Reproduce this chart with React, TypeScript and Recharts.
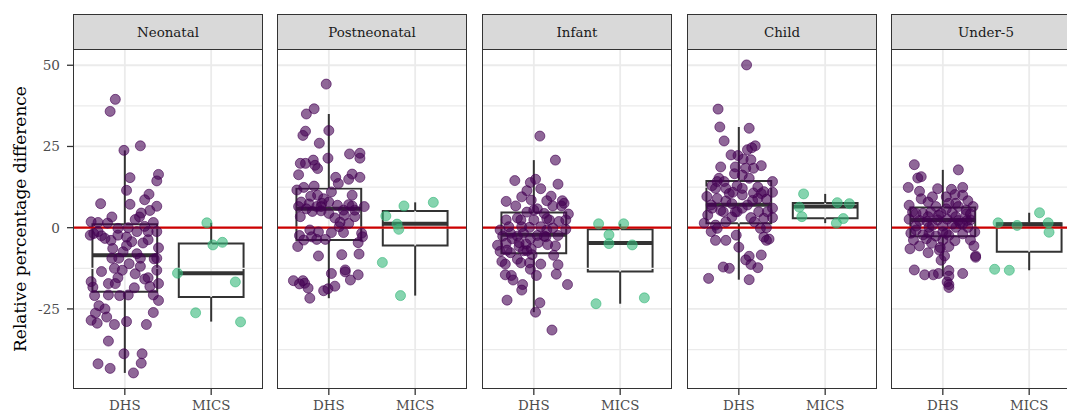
import React from 'react';
import { ComposedChart, XAxis, YAxis, Scatter, ReferenceLine, ReferenceArea } from 'recharts';

// Facet titles and x categories
const facets = ['Neonatal', 'Postneonatal', 'Infant', 'Child', 'Under-5'];
const sources = ['DHS', 'MICS'];

// Jittered observations: [horizontal jitter offset, relative percentage difference]
const neonatalDhs = [
  [-0.11, 39.5], [-0.17, 35.8], [-0.01, 23.8], [0.18, 25.2], [0.06, 15.4], [0.39, 16.4], [0.37, 14.4], [0.02, 11.5],
  [0.28, 10.3], [-0.28, 7.4], [0.23, 8.6], [0.06, 7.2], [0.37, 6.6], [0.19, 4.5], [0.29, 5.3], [-0.15, 3.3],
  [0.12, 2.5], [0.17, 3.3], [-0.39, 1.8], [-0.31, 1.6], [-0.2, 1.4], [-0.08, -0.2], [-0.4, -2.3], [-0.27, -2.5],
  [0.04, 0], [0.23, 0.4], [0.33, 1.6], [-0.16, -3.9], [0.02, -2.9], [0.27, -3.7], [0.21, -4.7], [0.39, -6.2],
  [-0.14, -6.4], [-0.02, -7.4], [0.14, -8.0], [0.34, -9.6], [0.02, -5.5], [-0.27, -13.5], [-0.12, -12.5], [0.05, -11.1],
  [0.18, -11.9], [-0.08, -15.4], [-0.39, -16.6], [-0.19, -17.2], [-0.03, -13.1], [0.12, -14.2], [0.27, -15.4], [0.39, -17.2],
  [-0.37, -18.3], [0.11, -18.5], [0.29, -18.1], [-0.35, -20.9], [-0.19, -20.7], [-0.06, -20.9], [0.39, -22.4], [-0.3, -24.0],
  [-0.23, -25.0], [-0.34, -26.3], [-0.39, -28.5], [-0.32, -29.4], [-0.21, -27.5], [-0.12, -29.8], [0.02, -28.9], [0.25, -29.8],
  [0.33, -26.1], [-0.19, -34.9], [-0.01, -38.8], [0.2, -38.8], [-0.31, -41.9], [-0.17, -43.3], [0.19, -41.7], [0.1, -44.7],
  [-0.07, -9.4], [-0.31, -1.2], [0.14, -1.2], [0.27, -1.2], [0.37, -1.2], [-0.15, -9.4], [0.18, -9.4], [0.37, -13.1],
  [-0.23, -3.3], [0.08, -4.3], [0.23, -15.8], [-0.11, -17.2], [0.37, -9.4], [0.04, -20.7], [0.33, -20.7], [-0.36, -1.8],
  [-0.08, -2.3],
];
const neonatalMics = [[-0.05, 1.5], [0.02, -5.3], [0.13, -4.5], [-0.39, -14.0], [0.28, -16.7], [-0.18, -26.2], [0.34, -29.0]];

const postneonatalDhs = [
  [-0.03, 44.2], [-0.26, 35.0], [-0.17, 36.6], [-0.27, 29.7], [-0.3, 28.4], [0, 29.9], [-0.11, 26.0], [-0.01, 21.4],
  [0.24, 22.7], [0.36, 22.9], [0.36, 21.4], [-0.33, 19.8], [-0.27, 19.8], [-0.18, 20.8], [-0.16, 19.2], [-0.13, 18.2],
  [-0.35, 16.3], [0.08, 15.5], [0.27, 16.5], [0.36, 15.5], [0.23, 14.9], [0.11, 13.6], [-0.37, 11.6], [-0.29, 12.4],
  [-0.17, 12.8], [0.03, 11.0], [0.27, 10.0], [-0.21, 9.7], [-0.13, 10.0], [-0.06, 8.9], [-0.32, 7.9], [-0.23, 7.3],
  [-0.14, 6.5], [-0.08, 7.5], [0, 7.9], [0.1, 6.9], [0.23, 7.1], [0.41, 6.5], [-0.35, 6.5], [-0.26, 5.8],
  [-0.19, 5.0], [-0.09, 5.2], [0.17, 5.4], [0.3, 5.4], [-0.33, 3.4], [0.18, 3.8], [0.3, 3.4], [0.13, 1.7],
  [0.12, 0.3], [-0.12, -1.3], [-0.22, -0.7], [0.17, -1.5], [0.38, -1.7], [-0.34, -2.4], [0.03, -1.5], [-0.29, -3.8],
  [-0.14, -3.6], [-0.04, -3.6], [-0.36, -5.8], [0.34, -4.6], [0.35, -8.1], [-0.12, -8.7], [0.15, -8.3], [0.03, -14.1],
  [0.19, -13.0], [0.19, -13.6], [0.34, -14.5], [0.25, -16.1], [-0.41, -16.3], [-0.3, -16.3], [-0.28, -17.1], [-0.34, -17.3],
  [-0.24, -18.6], [0.07, -18.0], [-0.06, -19.4], [-0.01, -18.8], [-0.22, -21.7], [-0.09, 6.5], [0, 4.4], [0.07, 3.0],
  [0.23, 1.3], [0.39, -2.8], [-0.2, -2.8], [0.27, 6.7],
];
const postneonatalMics = [[-0.34, 3.6], [-0.13, 6.7], [0.21, 7.8], [-0.21, 1.1], [-0.19, -0.5], [-0.38, -10.7], [-0.17, -20.9]];

const infantDhs = [
  [0.07, 28.2], [0.25, 20.8], [-0.22, 14.5], [-0.04, 13.9], [0.02, 14.9], [0.28, 13.4], [-0.08, 11.4], [0.08, 12.0],
  [-0.14, 9.5], [-0.32, 8.1], [-0.03, 8.5], [0.2, 9.7], [0.33, 8.3], [-0.21, 6.7], [0.04, 5.8], [0.22, 6.7],
  [0.32, 6.7], [0.4, 4.2], [-0.32, 2.4], [-0.19, 3.0], [-0.15, 2.4], [0.15, 2.8], [0.29, 1.9], [-0.05, 0.1],
  [0.08, 0.3], [0.22, -0.1], [0.37, -0.5], [-0.39, -0.7], [-0.27, -1.7], [-0.12, -1.7], [0.04, -2.4], [0.28, -2.4],
  [-0.25, -3.4], [-0.04, -3.4], [0.14, -2.8], [-0.42, -5.4], [-0.32, -4.8], [-0.17, -4.6], [-0.09, -5.0], [0.05, -4.6],
  [0.25, -5.6], [-0.39, -7.3], [-0.27, -7.7], [-0.12, -7.1], [-0.03, -6.5], [0.23, -8.5], [-0.37, -10.4], [-0.33, -11.2],
  [-0.15, -10.8], [-0.05, -10.8], [0.08, -11.2], [0.28, -11.4], [-0.04, -12.8], [0.03, -14.7], [-0.33, -14.5], [-0.26, -14.7],
  [-0.24, -16.1], [0.26, -14.3], [0.39, -17.5], [-0.13, -17.5], [-0.14, -19.2], [-0.31, -22.3], [0.07, -23.1], [0.02, -26.0],
  [0.21, -31.5], [-0.19, -2.6], [-0.29, 0.3], [-0.14, 0.3], [0.15, -0.7], [-0.08, -7.1], [-0.19, -9.7], [0.16, -5.2],
  [0.12, 4.4], [0, 2.4], [-0.36, -2.6], [0.37, 2.4], [-0.08, 4.8], [0.18, 2.4], [-0.17, -5.8], [-0.02, -8.3],
  [-0.31, -6.9], [0.12, -2.6], [0.35, 7.5], [0.15, 8.3], [0, 5.4],
];
const infantMics = [[-0.25, 1.2], [0.04, 1.2], [-0.13, -2.2], [-0.13, -4.9], [0.14, -5.3], [-0.28, -23.4], [0.28, -21.6]];

const childDhs = [
  [0.09, 50.1], [-0.24, 36.5], [-0.22, 31.0], [0.12, 30.6], [-0.17, 26.7], [0.1, 24.0], [0.19, 25.2], [0.15, 24.6],
  [-0.09, 22.4], [-0.01, 22.2], [0.05, 21.1], [0.14, 20.9], [0.26, 19.1], [-0.21, 18.7], [-0.04, 18.7], [0.08, 18.3],
  [0.17, 18.3], [-0.05, 16.6], [0.04, 16.2], [0.12, 15.2], [-0.23, 15.2], [-0.25, 14.2], [0.39, 14.2], [-0.31, 12.9],
  [-0.15, 12.1], [-0.02, 12.9], [0.22, 12.5], [0.29, 11.1], [-0.07, 10.9], [0.04, 10.1], [0.17, 10.7], [-0.37, 9.6],
  [-0.25, 9.0], [-0.15, 8.2], [0.16, 8.4], [0.32, 8.8], [-0.08, 7.4], [-0.31, 6.0], [-0.21, 5.3], [0.04, 6.0],
  [0.23, 4.9], [0.39, 6.0], [-0.36, 3.9], [-0.08, 3.3], [0.14, 3.1], [0.29, 2.9], [0.39, 3.1], [-0.4, 1.4],
  [-0.27, 0.8], [-0.15, 1.8], [0.25, -0.2], [0.32, 0], [-0.32, -1.2], [-0.27, -3.9], [-0.15, -3.9], [-0.03, -2.3],
  [0.29, -2.9], [0.35, -3.5], [0.32, -3.9], [0, -6.0], [0.26, -8.4], [0.12, -8.8], [0.08, -9.9], [0.14, -11.3],
  [0.22, -12.3], [-0.18, -12.1], [-0.11, -12.5], [-0.35, -15.6], [0.12, -16.0], [-0.17, 14.2], [-0.11, 10.5], [0.26, 10.5],
  [-0.32, 7.0], [0.1, 7.0], [-0.04, 4.9], [0.39, 10.9], [-0.18, 4.9], [0.18, 1.8], [0.33, 4.9], [0.04, 12.1],
  [-0.27, 12.1], [0.22, 9.0], [-0.02, 4.9], [-0.25, -0.2],
];
const childMics = [[-0.25, 10.4], [-0.3, 6.3], [-0.27, 3.4], [0.14, 7.7], [0.28, 7.4], [0.21, 2.8], [0.13, 1.4]];

const underFiveDhs = [
  [-0.33, 19.4], [0.18, 17.8], [-0.29, 15.3], [-0.25, 15.7], [-0.4, 12.4], [-0.27, 11.2], [-0.06, 12.0], [0.1, 11.8],
  [0.23, 12.4], [0.14, 10.2], [0.23, 10.0], [-0.25, 8.9], [-0.17, 7.9], [0.04, 9.5], [0.29, 8.3], [-0.39, 6.9],
  [-0.08, 6.5], [0.07, 7.5], [0.18, 6.5], [0.35, 6.5], [-0.35, 4.8], [-0.23, 4.4], [-0.14, 4.8], [-0.02, 4.4],
  [0.11, 4.6], [0.27, 4.2], [-0.39, 2.6], [-0.27, 2.2], [-0.18, 1.9], [-0.06, 2.4], [0.05, 2.6], [0.18, 2.2],
  [0.32, 2.4], [-0.31, 0.5], [-0.16, 0.1], [0, 0.5], [0.15, 0.1], [0.29, 0.1], [-0.37, -1.7], [-0.23, -2.2],
  [-0.08, -2.6], [0.07, -2.4], [0.23, -1.9], [0.37, -1.3], [-0.34, -3.8], [-0.19, -3.4], [0, -3.8], [0.14, -4.0],
  [-0.38, -6.5], [-0.27, -5.6], [-0.03, -6.1], [0.36, -5.6], [-0.17, -7.7], [0.02, -8.7], [0.38, -8.7], [0.38, -9.1],
  [-0.33, -13.0], [-0.21, -14.5], [-0.11, -14.5], [-0.05, -14.1], [0.07, -13.2], [0.07, -14.9], [0.23, -14.1], [0.05, -16.7],
  [0.07, -17.5], [0.07, -18.4], [-0.02, -10.0], [-0.04, -6.9], [-0.12, 9.5], [-0.31, 4.4], [0.15, 3.4], [0.28, 2.2],
  [-0.17, 3.4], [0.04, 5.8], [0.27, 5.4], [-0.12, 0.7], [0.11, 1.1], [0.23, 1.1], [0, -1.3], [-0.31, -0.7],
  [0.32, -3.8], [-0.13, -4.8], [0.07, -5.8], [0.2, 1.3], [-0.05, 3.8], [0.15, 7.5], [0.32, 4.2], [0.04, -1.7],
  [-0.16, -1.7],
];
const underFiveMics = [[-0.36, 1.5], [-0.14, 0.7], [0.12, 4.6], [0.22, 1.5], [0.23, -1.4], [-0.4, -12.8], [-0.23, -13.1]];

const dhsPoints = [neonatalDhs, postneonatalDhs, infantDhs, childDhs, underFiveDhs];
const micsPoints = [neonatalMics, postneonatalMics, infantMics, childMics, underFiveMics];

// Box summaries: [lower whisker, Q1, median, Q3, upper whisker]
const dhsBoxes = [
  [-44.7, -19.7, -8.5, 1.05, 23.8],
  [-21.7, -3.8, 5.8, 12.1, 35.0],
  [-26.0, -7.9, -2.2, 4.7, 20.8],
  [-16.0, 1.35, 7.1, 14.4, 31.0],
  [-14.9, -2.6, 2.4, 6.2, 17.8],
];
const micsBoxes = [
  [-28.9, -21.3, -14.0, -4.9, 1.5],
  [-20.9, -5.5, 1.2, 5.1, 7.8],
  [-23.4, -13.5, -4.7, -0.5, 1.2],
  [1.4, 2.9, 6.5, 7.6, 10.4],
  [-13.1, -7.4, 1.0, 1.35, 4.6],
];

const yTicks = [-25, 0, 25, 50];
const yMinor = [-37.5, -12.5, 12.5, 37.5];
const yDomain: [number, number] = [-49.34, 55.0];
const xDomain: [number, number] = [0.4, 2.6];

const FONT = '"DejaVu Serif", serif';
const PANEL_LEFTS = [73, 277, 482, 687, 891];
const PANEL_W = 190;
const PANEL_TOP = 49;
const PANEL_BOTTOM = 388;
const CHART_H = 430;
const AXIS_W = 73;

const PURPLE = '#440154';
const GREEN = '#35B779';

const toRows = (pts: number[][], center: number) => pts.map(([o, v]) => ({ x: center + o, y: v }));

const dot = (color: string) => (p: any) => (
  <circle cx={p.cx} cy={p.cy} r={5} fill={color} fillOpacity={0.6} stroke={color} strokeOpacity={0.6} strokeWidth={1} />
);

function boxElements(stats: number[], center: number, key: string) {
  const [lo, q1, med, q3, hi] = stats;
  const half = 0.375;
  const line = { stroke: '#333333', strokeWidth: 2 };
  return [
    <ReferenceLine key={key + 'wl'} segment={[{ x: center, y: lo }, { x: center, y: q1 }]} {...line} ifOverflow="visible" />,
    <ReferenceLine key={key + 'wh'} segment={[{ x: center, y: q3 }, { x: center, y: hi }]} {...line} ifOverflow="visible" />,
    <ReferenceArea key={key + 'box'} x1={center - half} x2={center + half} y1={q1} y2={q3} fill="#ffffff" fillOpacity={1} {...line} ifOverflow="visible" />,
    <ReferenceLine key={key + 'med'} segment={[{ x: center - half, y: med }, { x: center + half, y: med }]} stroke="#333333" strokeWidth={4} ifOverflow="visible" />,
  ];
}

function Facet({ index }: { index: number }) {
  const first = index === 0;
  const left = first ? 0 : PANEL_LEFTS[index];
  const width = first ? AXIS_W + PANEL_W : PANEL_W;
  const gridColor = '#EBEBEB';
  return (
    <div style={{ position: 'absolute', left, top: 0 }}>
      <ComposedChart width={width} height={CHART_H} margin={{ top: PANEL_TOP, right: 0, bottom: 0, left: 0 }}>
        <XAxis
          type="number"
          dataKey="x"
          domain={xDomain}
          ticks={[1, 2]}
          allowDataOverflow
          tickFormatter={(v: number) => sources[v - 1]}
          axisLine={false}
          tickLine={{ stroke: '#333333', strokeWidth: 1.3 }}
          tickSize={7}
          tickMargin={5}
          height={CHART_H - PANEL_BOTTOM}
          tick={{ fill: '#4D4D4D', fontSize: 13.4, fontFamily: FONT }}
        />
        <YAxis
          type="number"
          dataKey="y"
          domain={yDomain}
          ticks={yTicks}
          allowDataOverflow
          hide={!first}
          width={first ? AXIS_W : 0}
          axisLine={false}
          tickLine={{ stroke: '#333333', strokeWidth: 1.3 }}
          tickSize={6}
          tickMargin={7}
          tick={{ fill: '#4D4D4D', fontSize: 13.6, fontFamily: FONT }}
        />
        {yMinor.map((v) => (
          <ReferenceLine key={'mi' + v} y={v} stroke={gridColor} strokeWidth={1.2} />
        ))}
        {yTicks.map((v) => (
          <ReferenceLine key={'ma' + v} y={v} stroke={gridColor} strokeWidth={1.8} />
        ))}
        {[1, 2].map((v) => (
          <ReferenceLine key={'vx' + v} x={v} stroke={gridColor} strokeWidth={1.8} />
        ))}
        {boxElements(dhsBoxes[index], 1, 'd')}
        {boxElements(micsBoxes[index], 2, 'm')}
        <Scatter name="DHS" data={toRows(dhsPoints[index], 1)} shape={dot(PURPLE)} isAnimationActive={false} />
        <Scatter name="MICS" data={toRows(micsPoints[index], 2)} shape={dot(GREEN)} isAnimationActive={false} />
        <ReferenceLine y={0} stroke="#CD0000" strokeWidth={2.2} />
      </ComposedChart>
      {/* panel border */}
      <div
        style={{
          position: 'absolute',
          left: first ? AXIS_W : 0,
          top: PANEL_TOP,
          width: PANEL_W,
          height: PANEL_BOTTOM - PANEL_TOP + 1,
          border: '1px solid #333333',
          boxSizing: 'border-box',
          pointerEvents: 'none',
        }}
      />
      {/* strip */}
      <div
        style={{
          position: 'absolute',
          left: first ? AXIS_W : 0,
          top: 14,
          width: PANEL_W,
          height: PANEL_TOP - 14 + 1,
          background: '#D9D9D9',
          border: '1px solid #333333',
          boxSizing: 'border-box',
          fontFamily: FONT,
          fontSize: 13.4,
          color: '#1A1A1A',
          display: 'flex',
          alignItems: 'center',
          justifyContent: 'center',
        }}
      >
        {facets[index]}
      </div>
    </div>
  );
}

export default function App() {
  return (
    <div style={{ position: 'absolute', left: 0, top: 0, width: 1067, height: 412, overflow: 'hidden', background: '#ffffff' }}>
      {facets.map((f, i) => (
        <Facet key={f} index={i} />
      ))}
      <div
        style={{
          position: 'absolute',
          left: 20 - 200,
          top: 218.5 - 12,
          width: 400,
          height: 24,
          lineHeight: '24px',
          textAlign: 'center',
          transform: 'rotate(-90deg)',
          fontFamily: FONT,
          fontSize: 17,
          color: '#000000',
          whiteSpace: 'nowrap',
        }}
      >
        Relative percentage difference
      </div>
    </div>
  );
}
